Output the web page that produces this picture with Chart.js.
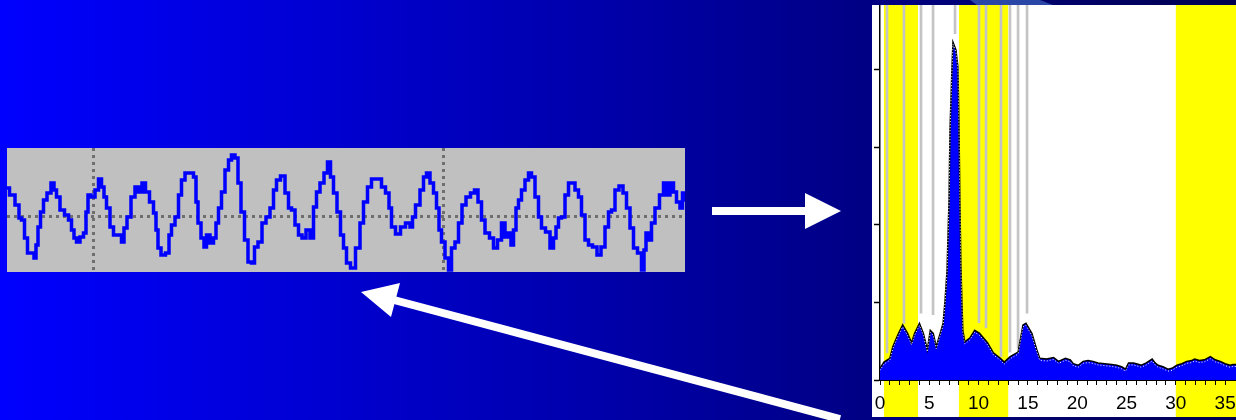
<!DOCTYPE html>
<html>
<head>
<meta charset="utf-8">
<script src="https://cdn.jsdelivr.net/npm/chart.js@4.4.1/dist/chart.umd.min.js"></script>
<style>
html, body { margin: 0; padding: 0; }
body {
  width: 1236px; height: 420px; overflow: hidden; position: relative;
  background: linear-gradient(to right, #0000ff 0%, #000050 100%);
}
#wave { position: absolute; left: 7px; top: 148px; background: #c0c0c0; }
#spec { position: absolute; left: 872px; top: 5px; background: #ffffff; }
svg { position: absolute; left: 0; top: 0; }
</style>
</head>
<body>
<svg width="1236" height="420">
  <polygon points="970,0 1040,0 1053,5 977,5" fill="#2a46a6"/>
  <line x1="712" y1="211" x2="807" y2="211" stroke="#fff" stroke-width="8"/>
  <polygon points="805,193 841,211 805,229" fill="#fff"/>
  <line x1="394" y1="300" x2="840" y2="419" stroke="#fff" stroke-width="8"/>
  <polygon points="361,292 400,283 391,317" fill="#fff"/>
</svg>
<canvas id="wave" width="678" height="124"></canvas>
<canvas id="spec" width="364" height="412"></canvas>
<script>
// waveform (time, amplitude)
const waveTime = [
  26.4, 26.9, 27.5, 27.7, 28.0, 28.3, 28.6, 29.0, 29.2, 29.4,
  29.6, 29.9, 30.2, 30.6, 31.0, 31.2, 31.5, 31.9, 32.4, 32.7,
  33.0, 33.2, 33.5, 33.9, 34.2, 34.4, 34.6, 35.0, 35.4, 35.7,
  36.0, 36.2, 36.5, 36.9, 37.2, 37.7, 38.0, 38.2, 38.6, 39.0,
  39.4, 39.7, 40.1, 40.4, 40.9, 41.2, 41.4, 41.6, 42.0, 42.5,
  42.7, 43.0, 43.4, 43.7, 44.0, 44.4, 44.9, 45.2, 45.4, 45.6,
  46.0, 46.2, 46.5, 46.9, 47.2, 47.4, 47.7, 48.0, 48.4, 48.7,
  49.0, 49.4, 49.6, 50.0, 50.3, 50.7, 51.0, 51.3, 51.7, 52.1,
  52.5, 52.9, 53.2, 53.5, 54.0, 54.4, 54.7, 55.0, 55.4, 55.7,
  56.1, 56.5, 56.9, 57.2, 57.5, 57.9, 58.3, 58.6, 58.9, 59.2,
  59.6, 59.9, 60.2, 60.5, 61.0, 61.5, 61.9, 62.2, 62.7, 63.0,
  63.7, 64.0, 64.5, 64.7, 65.0, 65.5, 66.0, 66.5, 66.9, 67.0,
  67.5, 67.9, 68.2, 68.5, 68.9, 69.2, 69.5, 69.7, 70.0, 70.4,
  70.7, 71.0, 71.4, 71.7, 72.1, 72.5, 73.0, 73.3, 73.7, 74.0,
  74.4, 74.9, 75.2, 75.7, 76.0, 76.4, 76.7, 76.9, 77.2, 77.4,
  77.7, 78.0, 78.4, 78.7, 79.0, 79.4, 79.7, 80.0, 80.5, 80.9,
  81.2, 81.4, 81.7, 82.0, 82.4, 82.7, 83.0, 83.4, 83.7, 84.0,
  84.4, 84.7, 85.2, 85.6, 86.0, 86.4, 86.7, 87.0, 87.4, 87.8,
  88.2, 88.5, 88.9, 89.2, 89.7, 90.0, 90.2, 90.4, 90.7, 91.0,
  91.4, 91.9, 92.2, 92.5, 92.9, 93.2, 93.5, 93.9, 94.0, 94.2
];
const waveAmp = [
  2.8, 2.1, 1.1, -0.2, -0.4, -2.2, -3.7, -3.7, -4.2, -2.9,
  -1.1, 0.4, 1.6, 2.3, 3.3, 2.6, 1.9, 0.6, 0.1, -0.4,
  -1.4, -2.2, -2.6, -2.1, -1.7, 0.4, 2.1, 1.9, 2.6, 3.7,
  2.9, 1.9, 0.8, -1.1, -1.9, -1.9, -2.6, -1.2, -0.1, 1.9,
  2.9, 2.4, 3.3, 2.4, 1.4, 0.3, -1.4, -3.2, -3.9, -3.7,
  -1.9, -0.9, -0.1, 2.1, 3.6, 4.3, 4.3, 3.9, 1.4, -0.7,
  -2.2, -3.1, -1.9, -2.7, -2.2, -0.7, 0.8, 2.4, 4.6, 5.6,
  6.1, 5.8, 3.3, 0.4, -2.4, -4.6, -4.7, -3.1, -2.6, -0.7,
  -0.1, 0.8, 2.6, 3.6, 4.0, 2.3, 0.8, 0.6, -0.9, -1.9,
  -2.2, -1.4, -2.2, 0.9, 2.4, 3.3, 4.3, 5.4, 3.9, 2.3,
  0.4, -1.9, -3.2, -4.7, -5.2, -3.2, -0.7, 1.4, 2.9, 3.7,
  3.7, 2.9, 2.3, 0.8, -1.1, -1.8, -1.1, -0.7, -1.1, -0.1,
  1.1, 2.6, 3.9, 4.3, 3.3, 2.3, 0.8, -1.4, -2.6, -4.2,
  -5.4, -3.2, -2.6, -0.7, 1.1, 1.9, 2.3, 2.6, 1.4, -0.4,
  -1.7, -2.2, -3.2, -2.4, -0.7, -2.1, -1.7, -2.9, -1.4, 0.8,
  1.6, 2.6, 3.6, 4.3, 3.9, 1.9, -0.1, -1.2, -1.6, -3.2,
  -2.2, -1.1, -0.2, -0.1, 2.1, 3.3, 3.3, 2.6, 1.9, 0.1,
  -2.4, -2.9, -3.1, -3.9, -3.1, -1.1, 0.4, 0.6, 2.6, 3.0,
  2.3, 0.8, -1.2, -3.2, -3.7, -5.4, -3.4, -1.7, -2.4, -0.7,
  0.8, 2.1, 3.3, 2.1, 3.3, 2.4, 1.4, 0.8, 2.3, 1.6
];

// spectrum (frequency, power)
const specFreq = [
  0, 0.4, 1.0, 1.3, 1.8, 2.3, 2.8, 3.2, 3.5, 4.0,
  4.4, 4.8, 5.1, 5.4, 5.7, 6.1, 6.4, 6.6, 6.8, 7.0,
  7.1, 7.3, 7.4, 7.7, 7.9, 8.0, 8.1, 8.2, 8.3, 8.4,
  8.6, 9.1, 9.6, 10.1, 10.9, 11.5, 12.2, 12.6, 13.2, 14.0,
  14.5, 14.8, 15.4, 15.9, 16.2, 16.9, 17.6, 18.1, 18.8, 19.3,
  19.6, 20.1, 20.6, 21.1, 21.6, 22.1, 22.8, 23.5, 24.0, 24.5,
  24.9, 25.2, 25.7, 26.0, 26.5, 27.0, 27.6, 27.9, 28.2, 28.7,
  29.2, 29.6, 30.1, 30.6, 31.1, 31.6, 31.9, 32.4, 32.9, 33.5,
  34.0, 34.5, 35.0, 35.5, 35.8, 36.1
];
const specPower = [
  0.15, 0.23, 0.28, 0.43, 0.58, 0.71, 0.60, 0.48, 0.60, 0.73,
  0.60, 0.39, 0.64, 0.60, 0.43, 0.60, 0.73, 1.03, 1.42, 2.32,
  3.22, 4.03, 4.35, 4.25, 4.03, 3.35, 2.32, 1.50, 1.03, 0.64,
  0.49, 0.54, 0.64, 0.60, 0.48, 0.35, 0.28, 0.23, 0.30, 0.36,
  0.71, 0.73, 0.60, 0.39, 0.28, 0.27, 0.29, 0.24, 0.28, 0.26,
  0.21, 0.19, 0.24, 0.25, 0.24, 0.22, 0.21, 0.20, 0.19, 0.17,
  0.14, 0.22, 0.22, 0.21, 0.19, 0.22, 0.27, 0.22, 0.19, 0.17,
  0.14, 0.15, 0.19, 0.21, 0.24, 0.25, 0.27, 0.25, 0.26, 0.30,
  0.26, 0.24, 0.21, 0.19, 0.20, 0.20
];

// peak markers and shaded bands
const markerFreq = [0.71, 2.43, 4.16, 5.38, 7.61, 10.04, 10.75, 12.27, 13.18, 14.0, 14.91];
const markerLow = [0.35, 0.73, 0.86, 0.84, 4.46, 0.74, 0.67, 0.30, 0.36, 0.41, 0.86];
const bandStart = [0.4, 8.0, 30.0];
const bandEnd = [3.85, 13.0, 40.0];

const SPEC_TOP = 4.83;

new Chart(document.getElementById('wave'), {
  type: 'line',
  data: {
    datasets: [{
      data: waveTime.map((t, i) => ({ x: t, y: waveAmp[i] })),
      borderColor: '#0000ff',
      borderWidth: 3.5,
      pointRadius: 0,
      stepped: 'middle',
      fill: false
    }]
  },
  options: {
    responsive: false,
    animation: false,
    events: [],
    layout: { padding: 0 },
    plugins: { legend: { display: false }, tooltip: { enabled: false } },
    scales: {
      x: {
        type: 'linear', min: 26.4, max: 94.2,
        border: { display: false, dash: [3, 4] },
        grid: { color: '#6e6e6e', lineWidth: 3, drawTicks: false },
        ticks: { display: false, stepSize: 35 },
        afterBuildTicks: s => { s.ticks = s.ticks.filter(t => t.value % 35 === 0); },
        afterFit: s => { s.height = 0; }
      },
      y: {
        type: 'linear', min: -5.6, max: 6.8,
        border: { display: false, dash: [3, 4] },
        grid: { color: '#6e6e6e', lineWidth: 3, drawTicks: false },
        ticks: { display: false, stepSize: 1 },
        afterBuildTicks: s => { s.ticks = s.ticks.filter(t => t.value === 0); },
        afterFit: s => { s.width = 0; }
      }
    }
  }
});

const specBackdrop = {
  id: 'specBackdrop',
  beforeDraw(chart) {
    const { ctx } = chart;
    const x = chart.scales.x;
    ctx.save();
    ctx.fillStyle = '#ffffff';
    ctx.fillRect(0, 0, chart.width, chart.height);
    ctx.fillStyle = '#ffff00';
    bandStart.forEach((s, i) => {
      const a = x.getPixelForValue(s);
      const b = Math.min(x.getPixelForValue(bandEnd[i]), chart.width);
      ctx.fillRect(a, 0, b - a, chart.height);
    });
    ctx.restore();
  }
};

// white dotted trace sits just under the black outline
const shiftTrace = {
  id: 'shiftTrace',
  beforeDatasetDraw(chart, args) {
    if (args.index === 2) { chart.ctx.save(); chart.ctx.translate(0, 2); }
  },
  afterDatasetDraw(chart, args) {
    if (args.index === 2) chart.ctx.restore();
  }
};

const specPoints = specFreq.map((f, i) => ({ x: f, y: specPower[i] }));

new Chart(document.getElementById('spec'), {
  data: {
    datasets: [
      {
        type: 'bar',
        data: markerFreq.map((f, i) => ({ x: f, y: [markerLow[i], SPEC_TOP] })),
        backgroundColor: '#c4c4c4',
        barThickness: 2,
        order: 3
      },
      {
        type: 'line',
        data: specPoints,
        borderColor: '#000000',
        borderWidth: 1.5,
        backgroundColor: '#0000ff',
        fill: 'origin',
        pointRadius: 0,
        tension: 0,
        order: 2
      },
      {
        type: 'line',
        data: specPoints,
        borderColor: '#ffffff',
        borderWidth: 1,
        borderDash: [1, 2],
        fill: false,
        pointRadius: 0,
        tension: 0,
        order: 1
      }
    ]
  },
  options: {
    responsive: false,
    animation: false,
    events: [],
    layout: { padding: 0 },
    plugins: { legend: { display: false }, tooltip: { enabled: false } },
    scales: {
      x: {
        type: 'linear', min: 0, max: 36.1, z: 1, offset: false,
        border: { color: '#000000', width: 2 },
        grid: { offset: false, drawOnChartArea: false, tickLength: 5, tickColor: '#000000', tickWidth: 1 },
        ticks: {
          stepSize: 1, autoSkip: false, maxRotation: 0, padding: 7,
          color: '#000000',
          font: { family: 'Liberation Sans, Arial, sans-serif', size: 19 },
          callback: v => (v % 5 === 0 ? String(v) : '')
        },
        afterBuildTicks: s => { s.ticks = s.ticks.filter(t => Number.isInteger(t.value)); },
        afterFit: s => { s.height = 37; s.paddingLeft = 0; s.paddingRight = 0; }
      },
      y: {
        type: 'linear', min: 0, max: SPEC_TOP, z: 1,
        border: { color: '#000000', width: 1.5 },
        grid: { drawOnChartArea: false, tickLength: 6, tickColor: '#000000', tickWidth: 1.5 },
        ticks: { display: false, stepSize: 1 },
        afterBuildTicks: s => { s.ticks = s.ticks.filter(t => Number.isInteger(t.value)); },
        afterFit: s => { s.width = 8; s.paddingTop = 0; s.paddingBottom = 0; }
      }
    }
  },
  plugins: [specBackdrop, shiftTrace]
});
</script>
</body>
</html>
